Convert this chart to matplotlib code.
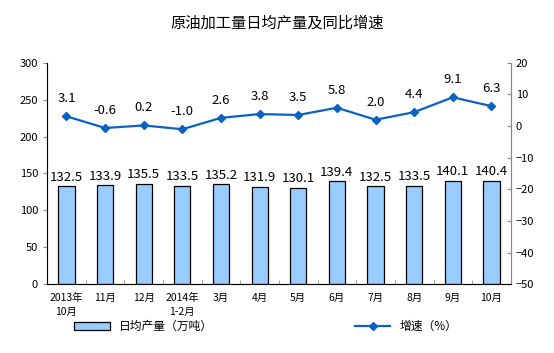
import matplotlib.pyplot as plt
import numpy as np

plt.rcParams['font.family'] = ['Noto Sans CJK SC', 'DejaVu Sans']

months = ['2013年\n10月', '11月', '12月', '2014年\n1-2月', '3月', '4月',
          '5月', '6月', '7月', '8月', '9月', '10月']
output = [132.5, 133.9, 135.5, 133.5, 135.2, 131.9, 130.1, 139.4, 132.5, 133.5, 140.1, 140.4]
growth = [3.1, -0.6, 0.2, -1.0, 2.6, 3.8, 3.5, 5.8, 2.0, 4.4, 9.1, 6.3]

bar_color = '#99CCFF'
line_color = '#0A62C4'

fig = plt.figure(figsize=(5.54, 3.53), dpi=100)
ax1 = fig.add_axes([0.085, 0.195, 0.837, 0.627])
x = np.arange(len(months))

bars = ax1.bar(x, output, width=0.42, color=bar_color, edgecolor='black', linewidth=0.9,
               label='日均产量（万吨）', zorder=2)
for xi, v in zip(x, output):
    ax1.annotate(f'{v:.1f}', (xi, v), xytext=(0, 2), textcoords='offset points',
                 ha='center', va='bottom', fontsize=9.5)

ax1.set_xlim(-0.5, len(months) - 0.5)
ax1.set_ylim(0, 300)
ax1.set_yticks(range(0, 301, 50))
ax1.set_xticks(x)
ax1.set_xticklabels(months, fontsize=7.5, linespacing=1.6)
ax1.set_xticks(np.arange(-0.5, len(months), 1), minor=True)
ax1.tick_params(axis='x', which='major', length=0, pad=6)
ax1.tick_params(axis='x', which='minor', length=3, direction='in', color='#888888')
ax1.tick_params(axis='y', labelsize=8, length=3, color='#888888')
ax1.spines['top'].set_visible(False)
for s in ['left', 'bottom', 'right']:
    ax1.spines[s].set_color('#888888')

ax2 = ax1.twinx()
ax2.plot(x, growth, color=line_color, marker='D', ms=4, lw=1.6, label='增速（%）', zorder=3)
for xi, v in zip(x, growth):
    ax2.annotate(f'{v:.1f}', (xi, v), xytext=(0, 8), textcoords='offset points',
                 ha='center', va='bottom', fontsize=9.5)
ax2.set_ylim(-50, 20)
ax2.set_yticks(range(-50, 21, 10))
ax2.tick_params(axis='y', labelsize=8, length=3, direction='in', color='#888888')
ax2.spines['top'].set_visible(False)
ax2.spines['right'].set_color('#888888')

fig.text(0.5, 0.935, '原油加工量日均产量及同比增速', ha='center', va='center', fontsize=11)

handles = [bars, ax2.get_lines()[0]]
fig.legend(handles, [h.get_label() for h in handles], loc='center', bbox_to_anchor=(0.48, 0.075),
           ncol=2, frameon=False, fontsize=8.5, columnspacing=12, handlelength=3.0)

fig.savefig('out.png', dpi=100)
